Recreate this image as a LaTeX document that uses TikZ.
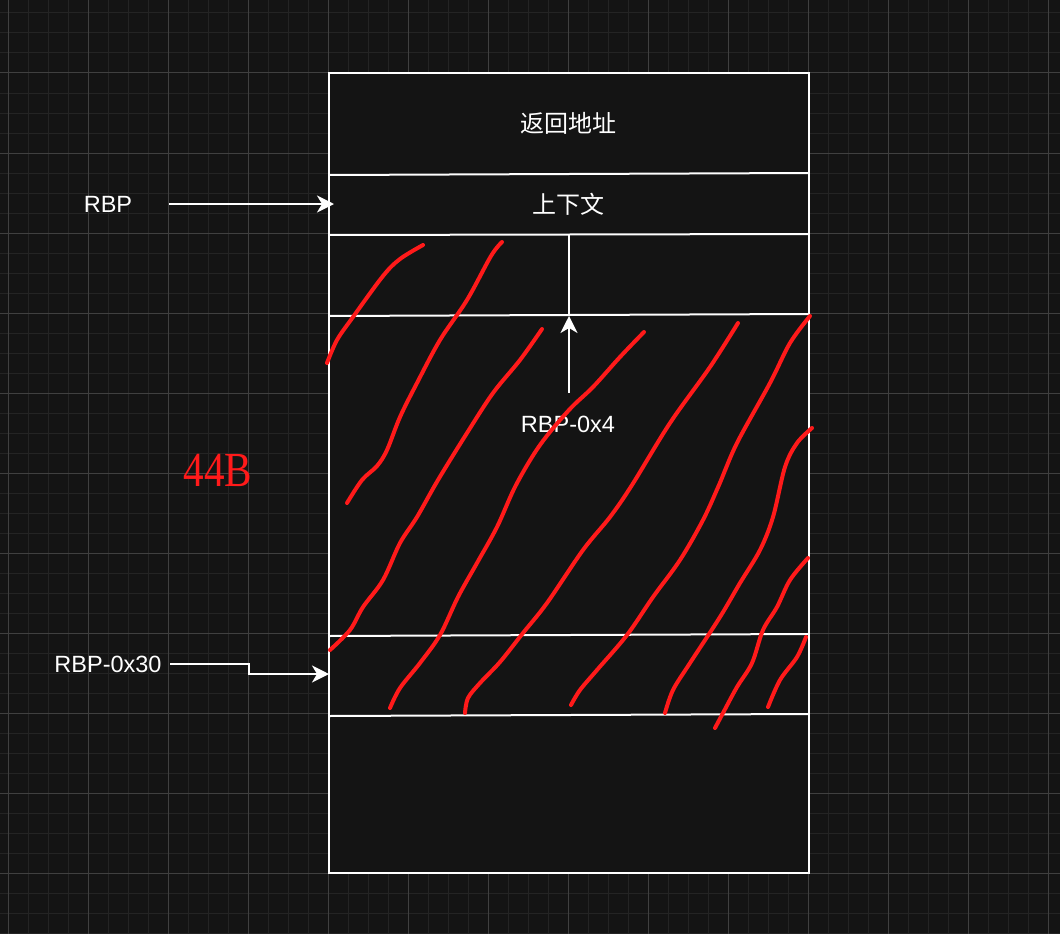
\documentclass[tikz,border=0pt]{standalone}
\usepackage{fontspec}
\setmainfont{Liberation Sans}
\newfontfamily\cjk{Noto Sans CJK SC}
\newfontfamily\serifB{Liberation Serif}
\usetikzlibrary{arrows.meta}
\definecolor{bg}{HTML}{141414}
\definecolor{gridminor}{HTML}{242424}
\definecolor{gridmajor}{HTML}{404040}
\definecolor{scribble}{HTML}{FF1A1A}
\tikzset{
  wline/.style={draw=white, line width=2pt},
  arr/.style={draw=white, line width=2pt, -{Stealth[length=17pt,width=17pt,inset=5pt]}},
  lbl/.style={text=white, inner sep=0pt, font=\fontsize{23.5}{28}\selectfont},
  cjklbl/.style={text=white, inner sep=0pt, font=\cjk\fontsize{24}{28}\selectfont},
  scr/.style={draw=scribble, line width=4pt, line cap=round, line join=round},
}
\begin{document}
\begin{tikzpicture}[x=1pt,y=-1pt]
\fill[bg] (0,0) rectangle (1060,934);
\useasboundingbox (0,0) rectangle (1060,934);
% grid
\foreach \i in {0,...,52} \draw[gridminor,line width=1pt] ({8+20*\i},0) -- ({8+20*\i},934);
\foreach \j in {0,...,46} \draw[gridminor,line width=1pt] (0,{13+20*\j}) -- (1060,{13+20*\j});
\foreach \i in {0,...,13} \draw[gridmajor,line width=1pt] ({8+80*\i},0) -- ({8+80*\i},934);
\foreach \j in {0,...,10} \draw[gridmajor,line width=1pt] (0,{73+80*\j}) -- (1060,{73+80*\j});
% stack
\node[draw=white, line width=2pt, fill=bg, minimum width=480pt, minimum height=800pt, inner sep=0pt] (stack) at (569,473) {};
\draw[wline] (329,175) -- (809,173);
\draw[wline] (329,235) -- (809,234);
\draw[wline] (329,316) -- (809,314);
\draw[wline] (329,636) -- (809,634);
\draw[wline] (329,716) -- (809,714);
% texts
\node[cjklbl] (ret) at (568,123) {返回地址};
\node[cjklbl] (ctx) at (568,204) {上下文};
\node[lbl] (rbp) at (108,204) {RBP};
\node[lbl] (rbp30) at (108,664) {RBP-0x30};
\node[lbl] (rbp4) at (568,424) {RBP-0x4};
\node[text=scribble, inner sep=0pt] (size) at (218,470) {\scalebox{0.84}[1]{\serifB\fontsize{49}{56}\selectfont 44B}};
% connectors
\coordinate (rbpFrom) at (169,204);
\coordinate (rbpTip) at (334,204);
\draw[arr] (rbpFrom) -- (rbpTip);
\coordinate (r30From) at (170,664);
\coordinate (r30Tip) at (329,674);
\draw[arr] (r30From) -- (249,664) -- (249,674) -- (r30Tip);
\coordinate (r4From) at (569,393);
\coordinate (r4Tip) at (569,316);
\coordinate (ctxBottom) at (569,235);
\draw[wline] (ctxBottom) -- (r4Tip);
\draw[arr] (r4From) -- (r4Tip);
% red scribbles
\begin{scope}[smooth, tension=0.55]
\draw[scr] plot coordinates {(423,245) (400,259) (383,276) (353,317) (337,340) (327,363)};
\draw[scr] plot coordinates {(502,242) (491,256) (467,300) (440,340) (417,383) (400,417) (387,450) (377,466) (362,480) (347,503)};
\draw[scr] plot coordinates {(542,329) (520,360) (493,393) (467,433) (438,480) (417,517) (400,543) (383,580) (363,607) (350,630) (330,650)};
\draw[scr] plot coordinates {(644,332) (620,357) (593,387) (569,410) (540,445) (516,485) (497,527) (477,563) (458,597) (440,635) (420,663) (400,688) (390,708)};
\draw[scr] plot coordinates {(738,323) (710,367) (670,423) (632,485) (610,517) (583,550) (547,603) (523,633) (500,662) (480,683) (468,698) (465,713)};
\draw[scr] plot coordinates {(810,316) (790,343) (770,383) (737,443) (719,485) (703,520) (680,560) (653,597) (627,635) (597,670) (580,690) (571,705)};
\draw[scr] plot coordinates {(812,428) (797,443) (785,467) (773,517) (760,550) (740,583) (720,617) (690,663) (673,690) (665,713)};
\draw[scr] plot coordinates {(808,558) (790,580) (777,607) (763,630) (752,663) (737,687) (723,713) (715,728)};
\draw[scr] plot coordinates {(806,637) (797,657) (780,680) (768,707)};
\end{scope}
\end{tikzpicture}
\end{document}
